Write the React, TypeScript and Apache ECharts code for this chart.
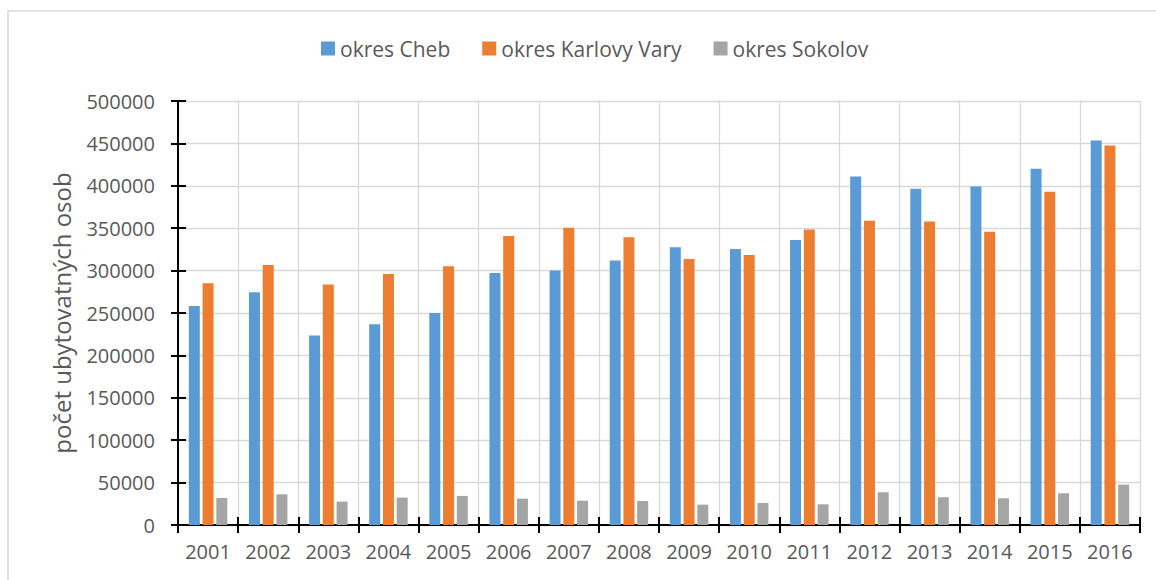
import React, { useEffect, useRef } from "react";
import * as echarts from "echarts";

const years = ["2001","2002","2003","2004","2005","2006","2007","2008","2009","2010","2011","2012","2013","2014","2015","2016"];
const cheb = [258300,274400,223600,236600,250000,297200,300000,311800,327600,325600,336200,411000,396500,399200,420100,453500];
const karlovyVary = [285000,306700,283500,296100,305100,340900,350400,339400,313800,318500,348400,358700,357900,345700,392900,447600];
const sokolov = [31900,36200,27600,32300,34300,31100,28700,28300,24000,26000,24400,38600,32700,31500,37400,47600];
const seriesNames = ["okres Cheb", "okres Karlovy Vary", "okres Sokolov"];
const colors = ["#5b9bd5", "#ed7d31", "#a5a5a5"];

const FONT = "'Open Sans', sans-serif";

export default function App() {
  const ref = useRef<HTMLDivElement>(null);
  useEffect(() => {
    if (!ref.current) return;
    const chart = echarts.init(ref.current, null, { renderer: "svg" });
    const dataSets = [cheb, karlovyVary, sokolov];
    chart.setOption({
      animation: false,
      color: colors,
      textStyle: { fontFamily: FONT },
      graphic: [
        {
          type: "rect",
          shape: { x: 8, y: 11, width: 1300, height: 700 },
          style: { fill: "none", stroke: "#d9d9d9", lineWidth: 1.5 },
          silent: true,
          z: -10,
        },
      ],
      legend: {
        left: 316,
        top: 33,
        itemWidth: 14,
        itemHeight: 14,
        itemGap: 32,
        icon: "rect",
        textStyle: { fontFamily: FONT, fontSize: 21, color: "#595959" },
        data: seriesNames,
      },
      grid: { left: 178, right: 16, top: 101, bottom: 55, containLabel: false },
      xAxis: [
        {
          type: "category",
          data: years,
          boundaryGap: true,
          axisLine: { lineStyle: { color: "#000", width: 2 } },
          axisTick: { show: true, length: 8, lineStyle: { color: "#000", width: 2 } },
          axisLabel: { fontFamily: FONT, fontSize: 20, color: "#595959", margin: 16 },
          splitLine: { show: true, lineStyle: { color: "#d9d9d9", width: 1.3 } },
        },
        {
          type: "category",
          data: years,
          position: "bottom",
          boundaryGap: true,
          axisLine: { show: false },
          axisTick: { show: true, inside: true, length: 8, lineStyle: { color: "#000", width: 2 } },
          axisLabel: { show: false },
          splitLine: { show: false },
        },
      ],
      yAxis: [
        {
          type: "value",
          min: 0,
          max: 500000,
          interval: 50000,
          name: "počet ubytovatných osob",
          nameLocation: "middle",
          nameGap: 105,
          nameTextStyle: { fontFamily: FONT, fontSize: 24, color: "#595959" },
          axisLine: { show: true, lineStyle: { color: "#000", width: 2 } },
          axisTick: { show: true, length: 7, lineStyle: { color: "#000", width: 2 } },
          axisLabel: { fontFamily: FONT, fontSize: 20, color: "#595959", margin: 23, formatter: (v: number) => String(v) },
          splitLine: { show: true, lineStyle: { color: "#d9d9d9", width: 1.3 } },
        },
        {
          type: "value",
          min: 0,
          max: 500000,
          interval: 50000,
          position: "left",
          axisLine: { show: false },
          axisTick: { show: true, inside: true, length: 8, lineStyle: { color: "#000", width: 2 } },
          axisLabel: { show: false },
          splitLine: { show: false },
        },
      ],
      series: dataSets.map((d, i) => ({
        name: seriesNames[i],
        type: "bar",
        data: d,
        barWidth: 11,
        barGap: "25%",
        itemStyle: { color: colors[i] },
      })),
    });
    return () => chart.dispose();
  }, []);
  return <div ref={ref} style={{ position: "absolute", left: 0, top: 0, width: 1156, height: 580 }} />;
}
